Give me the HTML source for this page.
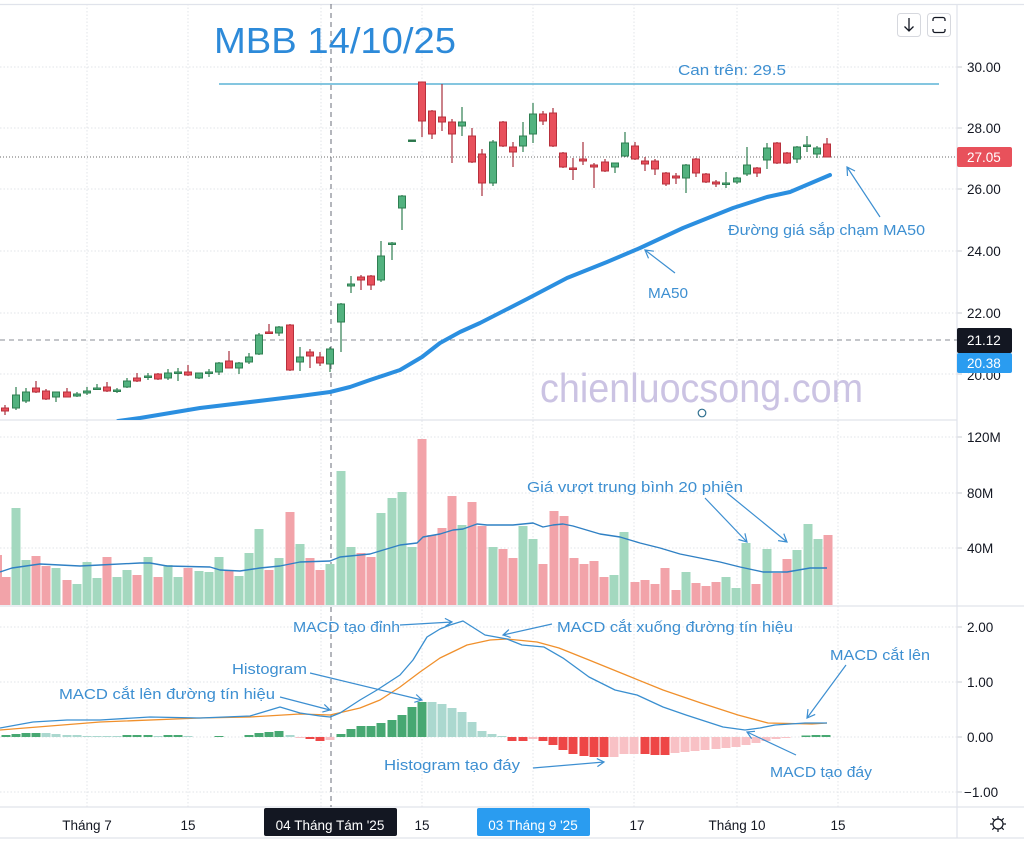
<!DOCTYPE html>
<html><head><meta charset="utf-8"><style>
html,body{margin:0;padding:0;background:#fff;}
svg{display:block;}
text{font-family:"Liberation Sans",sans-serif;}
.ax{font-size:13.5px;fill:#131722;}
.an{font-size:15px;fill:#3d8fd1;}
.gr{stroke:#e2e4e8;stroke-width:1;stroke-dasharray:1.5 2;fill:none;}
.arr{stroke:#3d8fd1;stroke-width:1.2;fill:none;}
</style></head><body>
<svg width="1024" height="852" viewBox="0 0 1024 852" xmlns="http://www.w3.org/2000/svg">
<rect width="1024" height="852" fill="#fff"/>
<!-- grid -->
<path class="gr" d="M87 4V807M188 4V807M321 4V807M422 4V807M533 4V807M634 4V807M737 4V807M838 4V807"/>
<path class="gr" d="M0 67H957M0 128H957M0 189H957M0 251H957M0 313H957M0 374H957M0 437H957M0 493H957M0 548H957M0 627H957M0 682H957M0 737H957M0 792H957"/>
<!-- axis ticks -->
<path stroke="#c9ccd3" d="M957 67h5M957 128h5M957 189h5M957 251h5M957 313h5M957 374h5M957 437h5M957 493h5M957 548h5M957 627h5M957 682h5M957 737h5M957 792h5"/>
<!-- separators -->
<path stroke="#e0e3eb" stroke-width="1.2" fill="none" d="M0 4.5H1024M0 420H957M0 606H1024M0 807H1024M0 838H1024M957 4V838"/>
<!-- crosshair -->
<path stroke="#6a6d78" stroke-width="1" stroke-dasharray="5 4" fill="none" d="M331 4V807"/>
<path stroke="#8a8d96" stroke-width="1" stroke-dasharray="5 4" fill="none" d="M0 340H957"/>
<!-- last price line -->
<path stroke="#6a6a6a" stroke-width="1" stroke-dasharray="1 2" fill="none" d="M0 157H957"/>
<!-- resistance -->
<path stroke="#5cb3d6" stroke-width="1.5" d="M219 84H939"/>
<!-- watermark -->
<text x="540" y="402" font-size="41" fill="#cbc3e3" textLength="323" lengthAdjust="spacingAndGlyphs">chienluocsong.com</text>
<circle cx="702" cy="413" r="3.8" fill="none" stroke="#2f6f8f" stroke-width="1.2"/>
<!-- MA50 -->
<clipPath id="pc"><rect x="0" y="4" width="957" height="416"/></clipPath>
<polyline clip-path="url(#pc)" fill="none" stroke="#2b8fe0" stroke-width="4" stroke-linejoin="round" stroke-linecap="round" points="118,421 140,418 200,408 267,400 300,396 330,392 350,387 370,380 400,370 422,357 440,343 460,332 480,323 527,299 567,278 607,262 640,248 683,228 733,208 767,197 790,192 830,175"/>
<!-- candles wicks -->
<path stroke="#a8303c" stroke-width="1.2" fill="none" d="M5 405V415M36 381V393M46 389V400M67 388V397M107 382V392M137 373V382M158 373V380M188 365V376M229 351V368M269 324V334M290 324V371M310 349V368M320 352V366M361 275V290M371 275V290M422 82V137M432 110V139M442 84V131M452 119V163M472 128V163M482 149V196M503 121V147M513 142V167M543 111V125M553 108V147M563 152V168M573 158V180M583 142V165M594 163V188M605 159V172M635 142V160M645 157V171M655 159V175M666 172V186M676 173V184M696 158V177M706 173V183M716 180V187M757 167V177M777 142V164M787 152V164M827 138V157"/>
<path stroke="#2f7f52" stroke-width="1.2" fill="none" d="M16 387V410M26 388V403M56 392V402M77 392V397M87 387V395M97 384V390M117 388V393M127 378V388M148 373V380M168 369V380M178 368V381M199 373V379M209 369V377M219 362V375M239 362V374M249 353V364M259 333V355M279 326V336M300 347V371M330 347V372M341 303V352M351 276V293M381 241V282M392 242V260M402 195V230M462 107V136M493 140V186M523 122V152M533 103V143M615 163V173M625 132V157M686 164V193M726 172V188M737 177V184M747 147V176M767 143V169M797 146V163M807 136V152M817 146V158"/>
<g fill="#e8505c" stroke="#b8303c" stroke-width="1">
<rect x="1.5" y="408" width="7" height="3"/><rect x="32.5" y="388" width="7" height="4"/><rect x="42.5" y="391" width="7" height="8"/><rect x="63.5" y="392" width="7" height="5"/><rect x="103.5" y="387" width="7" height="4"/><rect x="133.5" y="378" width="7" height="3"/><rect x="154.5" y="374" width="7" height="5"/><rect x="184.5" y="372" width="7" height="3"/><rect x="225.5" y="361" width="7" height="7"/><rect x="265.5" y="332" width="7" height="1.5"/><rect x="286.5" y="325" width="7" height="45"/><rect x="306.5" y="352" width="7" height="4"/><rect x="316.5" y="357" width="7" height="6"/><rect x="357.5" y="277" width="7" height="3"/><rect x="367.5" y="276" width="7" height="9"/><rect x="418.5" y="82" width="7" height="39"/><rect x="428.5" y="111" width="7" height="23"/><rect x="438.5" y="117" width="7" height="5"/><rect x="448.5" y="122" width="7" height="12"/><rect x="468.5" y="136" width="7" height="26"/><rect x="478.5" y="154" width="7" height="29"/><rect x="499.5" y="122" width="7" height="24"/><rect x="509.5" y="147" width="7" height="5"/><rect x="539.5" y="114" width="7" height="7"/><rect x="549.5" y="113" width="7" height="33"/><rect x="559.5" y="153" width="7" height="14"/><rect x="569.5" y="168" width="7" height="1.5"/><rect x="579.5" y="159" width="7" height="2"/><rect x="590.5" y="165" width="7" height="2"/><rect x="601.5" y="162" width="7" height="9"/><rect x="631.5" y="146" width="7" height="13"/><rect x="641.5" y="161" width="7" height="3"/><rect x="651.5" y="161" width="7" height="8"/><rect x="662.5" y="173" width="7" height="11"/><rect x="672.5" y="176" width="7" height="2"/><rect x="692.5" y="159" width="7" height="14"/><rect x="702.5" y="174" width="7" height="8"/><rect x="712.5" y="182" width="7" height="2"/><rect x="753.5" y="168" width="7" height="5"/><rect x="773.5" y="143" width="7" height="20"/><rect x="783.5" y="153" width="7" height="10"/><rect x="823.5" y="144" width="7" height="13"/>
</g>
<g fill="#52b27f" stroke="#2f7f52" stroke-width="1">
<rect x="12.5" y="395" width="7" height="13"/><rect x="22.5" y="392" width="7" height="9"/><rect x="52.5" y="392" width="7" height="5"/><rect x="73.5" y="394" width="7" height="2"/><rect x="83.5" y="391" width="7" height="2"/><rect x="93.5" y="388" width="7" height="1.5"/><rect x="113.5" y="390" width="7" height="1.5"/><rect x="123.5" y="381" width="7" height="6"/><rect x="144.5" y="376" width="7" height="1.5"/><rect x="164.5" y="373" width="7" height="5"/><rect x="174.5" y="372" width="7" height="1.5"/><rect x="195.5" y="373" width="7" height="5"/><rect x="205.5" y="372" width="7" height="1.5"/><rect x="215.5" y="363" width="7" height="9"/><rect x="235.5" y="363" width="7" height="5"/><rect x="245.5" y="357" width="7" height="5"/><rect x="255.5" y="335" width="7" height="19"/><rect x="275.5" y="327" width="7" height="6"/><rect x="296.5" y="357" width="7" height="5"/><rect x="326.5" y="349" width="7" height="15"/><rect x="337.5" y="304" width="7" height="18"/><rect x="347.5" y="284" width="7" height="2"/><rect x="377.5" y="256" width="7" height="24"/><rect x="388.5" y="243" width="7" height="1.5"/><rect x="398.5" y="196" width="7" height="12"/><rect x="408.5" y="140" width="7" height="1.5" fill="#2f5f42"/><rect x="458.5" y="122" width="7" height="4"/><rect x="489.5" y="142" width="7" height="41"/><rect x="519.5" y="136" width="7" height="10"/><rect x="529.5" y="114" width="7" height="20"/><rect x="611.5" y="163" width="7" height="4"/><rect x="621.5" y="143" width="7" height="13"/><rect x="682.5" y="165" width="7" height="13"/><rect x="722.5" y="183" width="7" height="1.5"/><rect x="733.5" y="178" width="7" height="4"/><rect x="743.5" y="165" width="7" height="9"/><rect x="763.5" y="148" width="7" height="12"/><rect x="793.5" y="147" width="7" height="12"/><rect x="803.5" y="145" width="7" height="1.5"/><rect x="813.5" y="148" width="7" height="6"/>
</g>
<!-- volume -->
<g fill="#f2a3a9">
<rect x="-5" y="555" width="7" height="50"/><rect x="1.5" y="577" width="9" height="28"/><rect x="31.5" y="556" width="9" height="49"/><rect x="41.5" y="566" width="9" height="39"/><rect x="62.5" y="580" width="9" height="25"/><rect x="102.5" y="557" width="9" height="48"/><rect x="132.5" y="575" width="9" height="30"/><rect x="153.5" y="577" width="9" height="28"/><rect x="183.5" y="568" width="9" height="37"/><rect x="224.5" y="570" width="9" height="35"/><rect x="264.5" y="570" width="9" height="35"/><rect x="285.5" y="512" width="9" height="93"/><rect x="305.5" y="558" width="9" height="47"/><rect x="315.5" y="570" width="9" height="35"/><rect x="356.5" y="553" width="9" height="52"/><rect x="366.5" y="557" width="9" height="48"/><rect x="417.5" y="439" width="9" height="166"/><rect x="427.5" y="535" width="9" height="70"/><rect x="437.5" y="528" width="9" height="77"/><rect x="447.5" y="496" width="9" height="109"/><rect x="467.5" y="502" width="9" height="103"/><rect x="477.5" y="526" width="9" height="79"/><rect x="498.5" y="549" width="9" height="56"/><rect x="508.5" y="558" width="9" height="47"/><rect x="538.5" y="564" width="9" height="41"/><rect x="549.5" y="511" width="9" height="94"/><rect x="559.5" y="516" width="9" height="89"/><rect x="569.5" y="558" width="9" height="47"/><rect x="579.5" y="564" width="9" height="41"/><rect x="589.5" y="561" width="9" height="44"/><rect x="599.5" y="577" width="9" height="28"/><rect x="630.5" y="582" width="9" height="23"/><rect x="640.5" y="580" width="9" height="25"/><rect x="650.5" y="584" width="9" height="21"/><rect x="660.5" y="568" width="9" height="37"/><rect x="671.5" y="590" width="9" height="15"/><rect x="691.5" y="583" width="9" height="22"/><rect x="701.5" y="586" width="9" height="19"/><rect x="711.5" y="582" width="9" height="23"/><rect x="751.5" y="584" width="9" height="21"/><rect x="772.5" y="573" width="9" height="32"/><rect x="782.5" y="559" width="9" height="46"/><rect x="823.5" y="535" width="9" height="70"/>
</g>
<g fill="#a3d8bf">
<rect x="11.5" y="508" width="9" height="97"/><rect x="21.5" y="560" width="9" height="45"/><rect x="51.5" y="568" width="9" height="37"/><rect x="72.5" y="584" width="9" height="21"/><rect x="82.5" y="562" width="9" height="43"/><rect x="92.5" y="578" width="9" height="27"/><rect x="112.5" y="577" width="9" height="28"/><rect x="122.5" y="570" width="9" height="35"/><rect x="143.5" y="557" width="9" height="48"/><rect x="163.5" y="565" width="9" height="40"/><rect x="173.5" y="577" width="9" height="28"/><rect x="194.5" y="571" width="9" height="34"/><rect x="204.5" y="572" width="9" height="33"/><rect x="214.5" y="557" width="9" height="48"/><rect x="234.5" y="576" width="9" height="29"/><rect x="244.5" y="553" width="9" height="52"/><rect x="254.5" y="529" width="9" height="76"/><rect x="274.5" y="558" width="9" height="47"/><rect x="295.5" y="544" width="9" height="61"/><rect x="325.5" y="564" width="9" height="41"/><rect x="336.5" y="471" width="9" height="134"/><rect x="346.5" y="547" width="9" height="58"/><rect x="376.5" y="513" width="9" height="92"/><rect x="387.5" y="498" width="9" height="107"/><rect x="397.5" y="492" width="9" height="113"/><rect x="407.5" y="547" width="9" height="58"/><rect x="457.5" y="525" width="9" height="80"/><rect x="488.5" y="547" width="9" height="58"/><rect x="518.5" y="526" width="9" height="79"/><rect x="528.5" y="539" width="9" height="66"/><rect x="609.5" y="575" width="9" height="30"/><rect x="619.5" y="532" width="9" height="73"/><rect x="681.5" y="572" width="9" height="33"/><rect x="721.5" y="577" width="9" height="28"/><rect x="731.5" y="588" width="9" height="17"/><rect x="741.5" y="543" width="9" height="62"/><rect x="762.5" y="549" width="9" height="56"/><rect x="792.5" y="550" width="9" height="55"/><rect x="803.5" y="524" width="9" height="81"/><rect x="813.5" y="539" width="9" height="66"/>
</g>
<polyline fill="none" stroke="#2f80c4" stroke-width="1.4" stroke-linejoin="round" points="0,572 12,568 40,564 60,565 80,566 100,565 140,563 150,563 167,566 210,567 220,570 240,571 260,568 280,566 300,562 330,561 340,557 350,556 370,554 380,551 400,545 417,543 423,537 440,534 453,530 463,529 477,524 487,525 513,525 533,523 543,527 553,525 563,524 573,526 600,534 620,537 640,543 660,548 680,554 700,558 720,562 740,567 763,572 787,572 810,568 827,568"/>
<!-- MACD histogram -->
<g fill="#47a872">
<rect x="1.5" y="735" width="9" height="2"/><rect x="11.5" y="734" width="9" height="3"/><rect x="21.5" y="733" width="9" height="4"/><rect x="31.5" y="733" width="9" height="4"/><rect x="122.5" y="735" width="9" height="2"/><rect x="132.5" y="735" width="9" height="2"/><rect x="143.5" y="735" width="9" height="2"/><rect x="163.5" y="735" width="9" height="2"/><rect x="173.5" y="735" width="9" height="2"/><rect x="214.5" y="736" width="9" height="1"/><rect x="244.5" y="735" width="9" height="2"/><rect x="254.5" y="733" width="9" height="4"/><rect x="264.5" y="732" width="9" height="5"/><rect x="274.5" y="731" width="9" height="6"/><rect x="336.5" y="734" width="9" height="3"/><rect x="346.5" y="729" width="9" height="8"/><rect x="356.5" y="726" width="9" height="11"/><rect x="366.5" y="726" width="9" height="11"/><rect x="376.5" y="723" width="9" height="14"/><rect x="387.5" y="720" width="9" height="17"/><rect x="397.5" y="715" width="9" height="22"/><rect x="407.5" y="707" width="9" height="30"/><rect x="417.5" y="702" width="9" height="35"/><rect x="801.5" y="735.5" width="9" height="1.5"/><rect x="811.5" y="735" width="9" height="2"/><rect x="821.5" y="735" width="9" height="2"/>
</g>
<g fill="#abd8cf">
<rect x="41.5" y="733" width="9" height="4"/><rect x="51.5" y="734" width="9" height="3"/><rect x="62.5" y="735" width="9" height="2"/><rect x="72.5" y="735" width="9" height="2"/><rect x="82.5" y="736" width="9" height="1"/><rect x="92.5" y="736" width="9" height="1"/><rect x="102.5" y="736" width="9" height="1"/><rect x="112.5" y="736" width="9" height="1"/><rect x="153.5" y="736" width="9" height="1"/><rect x="183.5" y="736" width="9" height="1"/><rect x="285.5" y="735" width="9" height="2"/><rect x="427.5" y="702" width="9" height="35"/><rect x="437.5" y="704" width="9" height="33"/><rect x="447.5" y="708" width="9" height="29"/><rect x="457.5" y="712" width="9" height="25"/><rect x="467.5" y="722" width="9" height="15"/><rect x="477.5" y="731" width="9" height="6"/><rect x="487.5" y="734" width="9" height="3"/><rect x="497.5" y="736" width="9" height="1"/>
</g>
<g fill="#ee4747">
<rect x="305.5" y="737" width="9" height="2"/><rect x="315.5" y="737" width="9" height="4"/><rect x="507.5" y="737" width="9" height="4"/><rect x="518.5" y="737" width="9" height="4"/><rect x="538.5" y="737" width="9" height="4"/><rect x="548.5" y="737" width="9" height="8"/><rect x="558.5" y="737" width="9" height="13"/><rect x="568.5" y="737" width="9" height="17"/><rect x="579.5" y="737" width="9" height="19"/><rect x="589.5" y="737" width="9" height="20"/><rect x="599.5" y="737" width="9" height="20"/><rect x="640.5" y="737" width="9" height="17"/><rect x="650.5" y="737" width="9" height="18"/><rect x="660.5" y="737" width="9" height="18"/>
</g>
<g fill="#f8c1c5">
<rect x="295.5" y="737" width="9" height="1"/><rect x="325.5" y="737" width="9" height="3"/><rect x="528.5" y="737" width="9" height="2"/><rect x="609.5" y="737" width="9" height="20"/><rect x="619.5" y="737" width="9" height="17"/><rect x="629.5" y="737" width="9" height="17"/><rect x="670.5" y="737" width="9" height="16"/><rect x="680.5" y="737" width="9" height="15"/><rect x="690.5" y="737" width="9" height="14"/><rect x="700.5" y="737" width="9" height="13"/><rect x="711.5" y="737" width="9" height="12"/><rect x="721.5" y="737" width="9" height="11"/><rect x="731.5" y="737" width="9" height="10"/><rect x="741.5" y="737" width="9" height="8"/><rect x="751.5" y="737" width="9" height="6"/><rect x="761.5" y="737" width="9" height="4"/><rect x="771.5" y="737" width="9" height="2"/><rect x="781.5" y="737" width="9" height="1"/>
</g>
<!-- MACD lines -->
<polyline fill="none" stroke="#f0902c" stroke-width="1.3" stroke-linejoin="round" points="0,730 100,722 200,718 250,717 300,714 330,715 360,708 380,700 400,687 420,672 440,658 467,645 490,640 507,639 537,642 559,648 589,660 626,675 663,690 701,703 738,715 768,723 812,724 827,723"/>
<polyline fill="none" stroke="#3a8fd0" stroke-width="1.3" stroke-linejoin="round" points="0,728 33,722 67,720 100,720 150,717 200,718 250,716 280,707 300,713 320,716 330,717 340,713 360,700 377,690 400,675 413,660 427,637 440,629 450,625 463,621 485,635 507,639 522,645 544,647 563,658 589,677 615,690 637,695 663,707 686,715 723,727 745,730 760,728 775,725 805,723 827,723"/>
<!-- title -->
<text x="214" y="53" font-size="36" fill="#2d8ad9" textLength="242" lengthAdjust="spacingAndGlyphs">MBB 14/10/25</text>
<!-- annotations -->
<text class="an" x="678" y="75" textLength="108" lengthAdjust="spacingAndGlyphs">Can trên: 29.5</text>
<text class="an" x="728" y="235" textLength="197" lengthAdjust="spacingAndGlyphs">Đường giá sắp chạm MA50</text>
<text class="an" x="648" y="298" textLength="40" lengthAdjust="spacingAndGlyphs">MA50</text>
<text class="an" x="527" y="492" textLength="216" lengthAdjust="spacingAndGlyphs">Giá vượt trung bình 20 phiên</text>
<text class="an" x="293" y="632" textLength="107" lengthAdjust="spacingAndGlyphs">MACD tạo đỉnh</text>
<text class="an" x="232" y="674" textLength="75" lengthAdjust="spacingAndGlyphs">Histogram</text>
<text class="an" x="59" y="699" textLength="216" lengthAdjust="spacingAndGlyphs">MACD cắt lên đường tín hiệu</text>
<text class="an" x="557" y="632" textLength="236" lengthAdjust="spacingAndGlyphs">MACD cắt xuống đường tín hiệu</text>
<text class="an" x="830" y="660" textLength="100" lengthAdjust="spacingAndGlyphs">MACD cắt lên</text>
<text class="an" x="384" y="770" textLength="136" lengthAdjust="spacingAndGlyphs">Histogram tạo đáy</text>
<text class="an" x="770" y="777" textLength="102" lengthAdjust="spacingAndGlyphs">MACD tạo đáy</text>
<!-- arrows -->
<path class="arr" d="M880 217L847 167M847.5 176L847 167L855 171"/>
<path class="arr" d="M675 273L645 250M648.5 258.3L645 250L653.9 251.2"/>
<path class="arr" d="M705 498L747 542M744.9 533.3L747 542L738.4 539.5"/>
<path class="arr" d="M727 493L787 542M783.8 533.6L787 542L778.1 540.6"/>
<path class="arr" d="M400 625L452 622M444.9 618.4L452 622L445.3 626.4"/>
<path class="arr" d="M310 673L422 700M416.2 694.5L422 700L414.3 702.3"/>
<path class="arr" d="M280 697L330 710M324.3 704.4L330 710L322.3 712.1"/>
<path class="arr" d="M552 624L503 635M510.6 637.4L503 635L508.9 629.6"/>
<path class="arr" d="M846 665L807 718M815.2 714.4L807 718L808 709.1"/>
<path class="arr" d="M533 768L604 762M596.8 758.6L604 762L597.4 766.6"/>
<path class="arr" d="M796 755L747 732M751.6 738.6L747 732L755 731.3"/>
<!-- price axis labels -->
<text class="ax" x="967" y="72">30.00</text>
<text class="ax" x="967" y="133">28.00</text>
<text class="ax" x="967" y="194">26.00</text>
<text class="ax" x="967" y="256">24.00</text>
<text class="ax" x="967" y="318">22.00</text>
<text class="ax" x="967" y="380">20.00</text>
<rect x="957" y="147" width="55" height="20" rx="2" fill="#e8515b"/>
<text x="967" y="162" font-size="13.5" fill="#fff">27.05</text>
<rect x="957" y="328" width="55" height="25" rx="2" fill="#131722"/>
<text x="967" y="345" font-size="13.5" fill="#fff">21.12</text>
<rect x="957" y="353" width="55" height="20" rx="2" fill="#2a9cf0"/>
<text x="967" y="368" font-size="13.5" fill="#fff">20.38</text>
<text class="ax" x="967" y="442">120M</text>
<text class="ax" x="967" y="498">80M</text>
<text class="ax" x="967" y="553">40M</text>
<text class="ax" x="967" y="632">2.00</text>
<text class="ax" x="967" y="687">1.00</text>
<text class="ax" x="967" y="742">0.00</text>
<text class="ax" x="964" y="797">−1.00</text>
<!-- time axis -->
<text class="ax" x="87" y="830" text-anchor="middle">Tháng 7</text>
<text class="ax" x="188" y="830" text-anchor="middle">15</text>
<rect x="264" y="808" width="133" height="28" rx="2" fill="#131722"/>
<text x="330" y="830" font-size="13.5" fill="#fff" text-anchor="middle">04 Tháng Tám '25</text>
<text class="ax" x="422" y="830" text-anchor="middle">15</text>
<rect x="477" y="808" width="113" height="28" rx="2" fill="#2a9cf0"/>
<text x="533" y="830" font-size="13.5" fill="#fff" text-anchor="middle">03 Tháng 9 '25</text>
<text class="ax" x="637" y="830" text-anchor="middle">17</text>
<text class="ax" x="737" y="830" text-anchor="middle">Tháng 10</text>
<text class="ax" x="838" y="830" text-anchor="middle">15</text>
<!-- gear -->
<g stroke="#131722" stroke-width="1.2" fill="none">
<circle cx="998" cy="824" r="5"/>
<path d="M998 816v3M998 829v3M990 824h3M1003 824h3M992.3 818.3l2 2M1001.7 827.7l2 2M992.3 829.7l2-2M1001.7 820.3l2-2"/>
</g>
<!-- top right buttons -->
<rect x="897.5" y="13.5" width="23" height="23" rx="3" fill="#fff" stroke="#d6d8de"/>
<path d="M909 18V31M904.5 26.5L909 31L913.5 26.5" stroke="#131722" stroke-width="1.3" fill="none"/>
<rect x="927.5" y="13.5" width="23" height="23" rx="3" fill="#fff" stroke="#d6d8de"/>
<path d="M933 21v-1.5a2 2 0 0 1 2-2h8a2 2 0 0 1 2 2V21M933 29v1.5a2 2 0 0 0 2 2h8a2 2 0 0 0 2-2V29" stroke="#131722" stroke-width="1.3" fill="none"/>
</svg>
</body></html>
